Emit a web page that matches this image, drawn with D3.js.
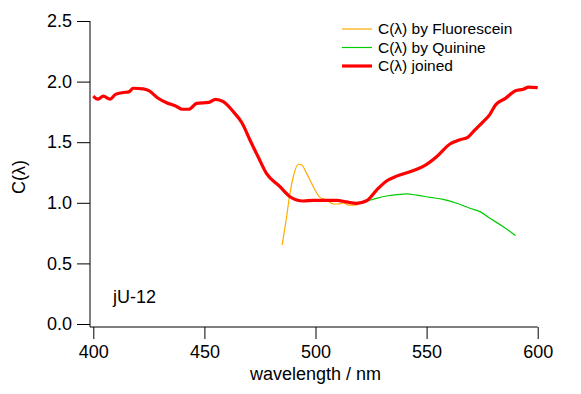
<!DOCTYPE html>
<html>
<head>
<meta charset="utf-8">
<script src="https://cdn.jsdelivr.net/npm/d3@7"></script>
<style>
  body { margin: 0; background: #fff; }
  text { font-family: "Liberation Sans", Arial, sans-serif; fill: #000; }
</style>
</head>
<body>
<svg id="chart" width="581" height="394"></svg>
<script>
// joined curve
var joinedWl = [400, 402, 404.5, 407.5, 410, 413.5, 416, 418, 422.5, 425, 429, 433, 437.5, 440, 443, 446.5,
    452, 455, 458.5, 463, 467, 470.5, 474.5, 478, 484, 488.5, 491.5, 494.5, 499, 509.5, 514, 518.5, 523,
    527.5, 532, 536.5, 542.5, 548.5, 554.5, 560.5, 565, 568.5, 571, 575.5, 578.5, 581, 585.5, 590, 593.5, 596, 600];
var joinedC = [1.88, 1.855, 1.88, 1.855, 1.895, 1.91, 1.915, 1.945, 1.94, 1.925, 1.865, 1.826, 1.795, 1.772, 1.772, 1.82,
    1.829, 1.854, 1.834, 1.752, 1.656, 1.518, 1.367, 1.24, 1.133, 1.05, 1.023, 1.015, 1.02, 1.02, 1.007, 0.996, 1.017,
    1.105, 1.18, 1.22, 1.257, 1.30, 1.38, 1.485, 1.52, 1.54, 1.587, 1.67, 1.73, 1.807, 1.862, 1.925, 1.937, 1.955, 1.95];

// fluorescein
var fluoWl = [485, 487, 488.5, 490, 492.3, 493.8, 496, 499, 502, 505, 508, 510.5, 512.5, 515, 518, 520];
var fluoC = [0.652, 0.885, 1.078, 1.215, 1.318, 1.312, 1.243, 1.133, 1.045, 1.023, 0.99, 0.99, 1.0, 0.98, 0.98, 0.996];

// quinine
var quinWl = [498, 505, 512, 518, 522, 527.5, 532, 536.5, 541, 545.5, 551.5, 557.5, 563.5, 569.5, 574, 578.5, 584.5, 590];
var quinC = [1.02, 1.02, 1.01, 1.0, 1.009, 1.037, 1.056, 1.067, 1.073, 1.063, 1.045, 1.028, 0.996, 0.955, 0.927, 0.872, 0.803, 0.729];

var xTicks = [400, 450, 500, 550, 600];
var yTicks = [0, 0.5, 1.0, 1.5, 2.0, 2.5];
var legendLabels = ["C(\u03bb) by Fluorescein", "C(\u03bb) by Quinine", "C(\u03bb) joined"];

var svg = d3.select("#chart");

var x = d3.scaleLinear().domain([400, 600]).range([93.3, 537.7]);
var y = d3.scaleLinear().domain([0, 2.5]).range([324, 21]);

var axisY = 327, axisX = 90;

// axes
var gx = svg.append("g").attr("transform", "translate(0," + axisY + ")")
    .call(d3.axisBottom(x).tickValues(xTicks).tickFormat(d3.format("d")).tickSize(12).tickPadding(6));
var gy = svg.append("g").attr("transform", "translate(" + axisX + ",0)")
    .call(d3.axisLeft(y).tickValues(yTicks).tickFormat(d3.format(".1f")).tickSize(13).tickPadding(5));

[gx, gy].forEach(function(g) {
    g.select(".domain").remove();
    g.selectAll("line").attr("stroke", "#000");
    g.selectAll("text").style("font-size", "18px").attr("fill", "#000");
});

svg.append("path")
    .attr("d", "M" + axisX + "," + y(2.5) + "V" + axisY + "H" + x(600))
    .attr("fill", "none").attr("stroke", "#000");

// axis titles
svg.append("text").attr("x", x(500)).attr("y", 380)
    .attr("text-anchor", "middle").style("font-size", "18px").text("wavelength / nm");
svg.append("text").attr("transform", "translate(25,177) rotate(-90)")
    .attr("text-anchor", "middle").style("font-size", "18px").text("C(\u03bb)");

// curves
function toPts(wl, c) { return wl.map(function(d, i) { return [d, c[i]]; }); }

var line = d3.line()
    .x(function(d) { return x(d[0]); })
    .y(function(d) { return y(d[1]); })
    .curve(d3.curveMonotoneX);

svg.append("path").datum(toPts(fluoWl, fluoC)).attr("d", line)
    .attr("fill", "none").attr("stroke", "#ffaa00").attr("stroke-width", 1.2);
svg.append("path").datum(toPts(quinWl, quinC)).attr("d", line)
    .attr("fill", "none").attr("stroke", "#00cc00").attr("stroke-width", 1.2);
svg.append("path").datum(toPts(joinedWl, joinedC)).attr("d", line)
    .attr("fill", "none").attr("stroke", "#ff0000").attr("stroke-width", 3.2);

// legend
var legColors = ["#ffaa00", "#00cc00", "#ff0000"];
var legWidths = [1.2, 1.2, 3.2];
var leg = svg.append("g").selectAll("g").data(legendLabels).enter().append("g")
    .attr("transform", function(d, i) { return "translate(342," + (29 + i * 18.5) + ")"; });
leg.append("line").attr("x1", 0).attr("x2", 30)
    .attr("stroke", function(d, i) { return legColors[i]; })
    .attr("stroke-width", function(d, i) { return legWidths[i]; });
leg.append("text").attr("x", 36).attr("dy", "0.35em").style("font-size", "15.5px")
    .text(function(d) { return d; });

// sample label
svg.append("text").attr("x", 113).attr("y", 303).style("font-size", "18px").text("jU-12");
</script>
</body>
</html>
